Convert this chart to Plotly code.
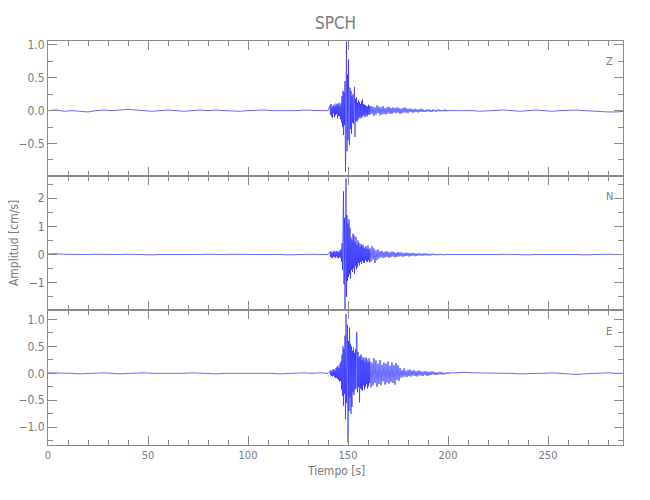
import plotly.graph_objects as go
from plotly.subplots import make_subplots

# ---------------- data (velocity, cm/s) ----------------
STATION = "SPCH"
COMPONENTS = ["Z", "N", "E"]

# sampling of the segments (start time [s], step [s])
T_PRE = (0.0, 4.0)
T_EVT = (141.0, 0.25)
T_CODA = (161.5, 0.5)
T_POST = (204.0, 4.0)

Z_pre = [0.00, 0.01, -0.01, 0.00, -0.01, -0.02, 0.00, 0.01, 0.00, 0.01, 0.02, 0.01,
         0.00, -0.01, 0.00, 0.01, 0.00, -0.01, 0.00, 0.01, 0.00, 0.01, 0.00, -0.01,
         -0.01, 0.00, 0.01, 0.01, 0.00, 0.00, -0.01, 0.00, 0.01, 0.00, 0.00, 0.00]
Z_evt = [0.08, -0.06, 0.10, -0.09, 0.05, -0.11, 0.07, -0.04, 0.09, -0.10, 0.06, -0.07,
         0.11, -0.05, 0.08, -0.12, 0.10, -0.08, 0.12, -0.09, 0.07, -0.13, 0.11, -0.18,
         0.22, -0.25, 0.30, -0.37, 0.28, -0.22, 0.45, -0.93, 0.40, 1.05, -0.62, 0.55,
         -0.45, 0.78, -0.30, -0.52, 0.35, -0.28, 0.30, -0.35, 0.22, -0.18, 0.25, -0.20,
         0.15, 0.36, -0.40, 0.18, -0.15, 0.20, -0.17, 0.12, -0.14, 0.16, -0.10, 0.13,
         -0.12, 0.10, -0.09, 0.14, -0.11, 0.17, -0.08, 0.10, -0.07, 0.09, -0.10, 0.08,
         -0.06, 0.07, -0.09, 0.06, -0.07, 0.09, -0.05, 0.07, -0.06]
Z_coda = [0.07, -0.05, 0.06, -0.08, 0.05, -0.06, 0.08, -0.04, 0.06, -0.07,
          0.05, -0.06, 0.07, -0.05, 0.04, -0.06, 0.05, -0.04, 0.06, -0.05,
          0.04, -0.05, 0.05, -0.03, 0.04, -0.04, 0.05, -0.03, 0.04, -0.05,
          0.03, -0.04, 0.04, -0.03, 0.05, -0.03, 0.03, -0.04, 0.03, -0.02,
          0.03, -0.03, 0.02, -0.03, 0.03, -0.02, 0.02, -0.03, 0.02, -0.02,
          0.03, -0.02, 0.02, -0.02, 0.01, -0.02, 0.02, -0.01, 0.02, -0.02,
          0.01, -0.02, 0.02, -0.01, 0.01, -0.02, 0.01, -0.01, 0.02, -0.01,
          0.01, -0.01, 0.01, -0.01, 0.02, -0.01, 0.01, -0.01, 0.01, 0.00]
Z_post = [0.00, 0.01, 0.00, -0.01, 0.00, 0.01, 0.01, 0.00, -0.01, 0.00, 0.01,
          0.00, -0.01, 0.00, 0.01, 0.01, 0.00, -0.01, -0.01, -0.02, -0.02, -0.01]

N_pre = [0.02, 0.03, 0.01, 0.00, -0.01, 0.00, 0.01, 0.00, -0.01, 0.00, 0.01, 0.00,
         0.00, -0.01, 0.00, 0.01, 0.00, 0.00, -0.01, 0.00, 0.01, 0.00, 0.00, 0.01,
         0.00, -0.01, 0.00, 0.00, 0.01, 0.00, -0.01, 0.00, 0.00, 0.01, 0.00, 0.00]
N_evt = [0.10, -0.08, 0.12, -0.10, 0.06, -0.13, 0.09, -0.07, 0.14, -0.09, 0.11, -0.12,
         0.08, -0.06, 0.13, -0.11, 0.10, -0.14, 0.09, -0.08, 0.15, -0.12, 0.18, -0.25,
         0.40, -0.55, 0.90, 2.24, -1.05, 1.30, -1.94, 0.80, 2.70, -1.50, 1.40, -0.93,
         1.10, -0.80, 1.25, -0.70, 0.95, -0.85, 0.60, -0.55, 0.50, -0.62, 0.74, -0.48,
         0.68, -0.69, 0.45, -0.40, 0.62, -0.52, 0.35, -0.45, 0.50, -0.30, 0.42, -0.39,
         0.28, -0.25, 0.38, -0.33, 0.30, -0.22, 0.35, -0.28, 0.25, -0.30, 0.22, -0.18,
         0.30, -0.24, 0.20, -0.26, 0.32, -0.20, 0.18, -0.28, 0.22]
N_coda = [-0.25, 0.30, -0.18, 0.22, -0.30, 0.15, -0.20, 0.18, -0.14, 0.12,
          -0.10, 0.13, -0.12, 0.09, -0.11, 0.12, -0.08, 0.10, -0.12, 0.08,
          -0.09, 0.11, -0.07, 0.09, -0.10, 0.06, -0.08, 0.09, -0.07, 0.08,
          -0.06, 0.07, -0.08, 0.05, -0.06, 0.07, -0.05, 0.06, -0.07, 0.05,
          -0.05, 0.06, -0.04, 0.05, -0.06, 0.04, -0.05, 0.04, -0.03, 0.05,
          -0.04, 0.03, -0.04, 0.05, -0.03, 0.04, -0.03, 0.03, -0.04, 0.02,
          -0.03, 0.03, -0.02, 0.03, -0.02, 0.02, -0.03, 0.02, -0.02, 0.02,
          -0.01, 0.02, -0.02, 0.01, -0.02, 0.01, -0.01, 0.02, -0.01, 0.00]
N_post = [0.00, 0.01, 0.00, 0.00, -0.01, 0.00, 0.01, 0.00, 0.00, -0.01, 0.00,
          0.01, 0.00, 0.00, 0.01, 0.00, -0.01, 0.00, 0.00, 0.01, 0.00, 0.00]

E_pre = [0.01, 0.01, 0.00, 0.00, -0.01, 0.00, 0.00, 0.01, 0.00, -0.01, 0.00, 0.01,
         0.01, 0.00, 0.00, -0.01, 0.00, 0.00, 0.01, 0.00, 0.00, -0.01, 0.00, 0.00,
         0.01, 0.00, 0.00, 0.01, 0.00, -0.01, 0.00, 0.00, 0.01, 0.00, 0.01, 0.00]
E_evt = [0.04, -0.03, 0.06, -0.05, 0.03, -0.06, 0.07, -0.04, 0.08, -0.07, 0.05, -0.09,
         0.10, -0.08, 0.12, -0.10, 0.14, -0.12, 0.10, -0.15, 0.18, -0.14, 0.22, -0.30,
         0.35, -0.42, 0.50, -0.60, 0.45, -0.38, 0.70, -0.85, 1.10, -0.55, 0.65, 0.90,
         -1.28, 0.60, -0.70, 0.85, -0.45, 0.55, -0.75, 0.50, -0.62, 0.42, -0.35, 0.48,
         -0.40, 0.38, -0.30, 0.45, -0.28, 0.77, 0.70, -0.35, 0.40, -0.25, 0.30, -0.54,
         0.32, -0.28, 0.35, -0.30, 0.25, -0.32, 0.30, -0.22, 0.28, -0.30, 0.22, -0.25,
         0.30, -0.20, 0.26, -0.28, 0.20, -0.24, 0.28, -0.18, 0.22]
E_coda = [-0.26, 0.20, -0.22, 0.28, -0.18, 0.24, -0.25, 0.18, -0.20, 0.25,
          -0.22, 0.16, -0.15, 0.20, -0.21, 0.18, -0.17, 0.22, -0.19, 0.14,
          -0.16, 0.20, -0.18, 0.15, -0.21, 0.19, -0.12, 0.15, -0.14, 0.10,
          -0.08, 0.06, -0.07, 0.09, -0.06, 0.05, -0.07, 0.06, -0.05, 0.07,
          -0.06, 0.05, -0.04, 0.06, -0.05, 0.04, -0.06, 0.05, -0.04, 0.05,
          -0.04, 0.03, -0.05, 0.04, -0.03, 0.04, -0.05, 0.03, -0.04, 0.03,
          -0.03, 0.04, -0.02, 0.03, -0.03, 0.02, -0.03, 0.02, -0.02, 0.03,
          -0.02, 0.02, -0.02, 0.01, -0.02, 0.02, -0.01, 0.02, -0.01, 0.01]
E_post = [0.01, 0.02, 0.01, 0.01, 0.00, 0.01, 0.00, 0.00, -0.01, 0.00, 0.00,
          0.00, 0.01, 0.00, -0.01, -0.02, -0.01, 0.00, 0.01, 0.01, 0.00, 0.00]

Y_RANGES = {"Z": [-0.99, 1.06], "N": [-1.98, 2.80], "E": [-1.33, 1.17]}
Y_DTICK = {"Z": 0.5, "N": 1.0, "E": 0.5}
Y_FMT = {"Z": ".1f", "N": "d", "E": ".1f"}
X_RANGE = [0, 287.5]
X_TITLE = "Tiempo [s]"
Y_TITLE = "Amplitud [cm/s]"

SEGMENTS = {
    "Z": [Z_pre, Z_evt, Z_coda, Z_post],
    "N": [N_pre, N_evt, N_coda, N_post],
    "E": [E_pre, E_evt, E_coda, E_post],
}


def build_series(parts):
    ts, vs = [], []
    for (t0, dt), vals in zip([T_PRE, T_EVT, T_CODA, T_POST], parts):
        for i, v in enumerate(vals):
            ts.append(t0 + dt * i)
            vs.append(v)
    return ts, vs


# ---------------- figure ----------------
FONT = "DejaVu Sans Condensed, Liberation Sans Narrow, sans-serif"
AX = "#8a8a8a"
TXT = "#7a7a7a"

fig = make_subplots(rows=3, cols=1, shared_xaxes=True, vertical_spacing=0)

for r, comp in enumerate(COMPONENTS, start=1):
    t, v = build_series(SEGMENTS[comp])
    fig.add_trace(go.Scatter(x=t, y=v, mode="lines",
                             line=dict(color="rgb(40,40,255)", width=0.7),
                             showlegend=False, hoverinfo="skip"), row=r, col=1)
    fig.update_yaxes(range=Y_RANGES[comp], dtick=Y_DTICK[comp], tick0=0,
                     tickformat=Y_FMT[comp], ticks="inside", ticklen=9,
                     tickcolor=AX, showline=True, linecolor=AX, linewidth=1,
                     mirror="ticks", showgrid=False, zeroline=False,
                     automargin=False,
                     minor=dict(dtick=Y_DTICK[comp] / 2, ticks="inside",
                                ticklen=5, tickcolor=AX),
                     tickfont=dict(family=FONT, size=12, color=TXT),
                     row=r, col=1)
    fig.update_xaxes(range=X_RANGE, dtick=50, tick0=0, ticks="inside",
                     ticklen=9, tickcolor=AX, showline=True, linecolor=AX,
                     linewidth=1, mirror="ticks", showgrid=False,
                     zeroline=False, showticklabels=(r == 3),
                     automargin=False,
                     minor=dict(dtick=10, ticks="inside", ticklen=5,
                                tickcolor=AX),
                     tickfont=dict(family=FONT, size=11, color=TXT),
                     row=r, col=1)

label_y = {"Z": 0.950, "N": 0.616, "E": 0.282}
annotations = []
for comp in COMPONENTS:
    annotations.append(dict(text=comp, x=0.976, y=label_y[comp], xref="paper",
                            yref="paper", showarrow=False, xanchor="center",
                            yanchor="middle",
                            font=dict(family=FONT, size=11, color=TXT)))
annotations.append(dict(text=X_TITLE, x=0.5, y=-0.064, xref="paper",
                        yref="paper", showarrow=False, xanchor="center",
                        yanchor="middle",
                        font=dict(family=FONT, size=12, color=TXT)))
annotations.append(dict(text=Y_TITLE, x=-0.059, y=0.5, xref="paper",
                        yref="paper", showarrow=False, textangle=-90,
                        xanchor="center", yanchor="middle",
                        font=dict(family=FONT, size=12, color=TXT)))
annotations.append(dict(text=STATION, x=0.5, y=1.045, xref="paper",
                        yref="paper", showarrow=False, xanchor="center",
                        yanchor="middle",
                        font=dict(family=FONT, size=17, color=TXT)))

# the page body adds an 8px offset; the figure is sized to fit the window
fig.update_layout(
    width=642, height=492,
    margin=dict(l=40, r=27, t=33, b=55, autoexpand=False),
    paper_bgcolor="white", plot_bgcolor="white",
    annotations=annotations,
)

fig.write_html("out.html")
